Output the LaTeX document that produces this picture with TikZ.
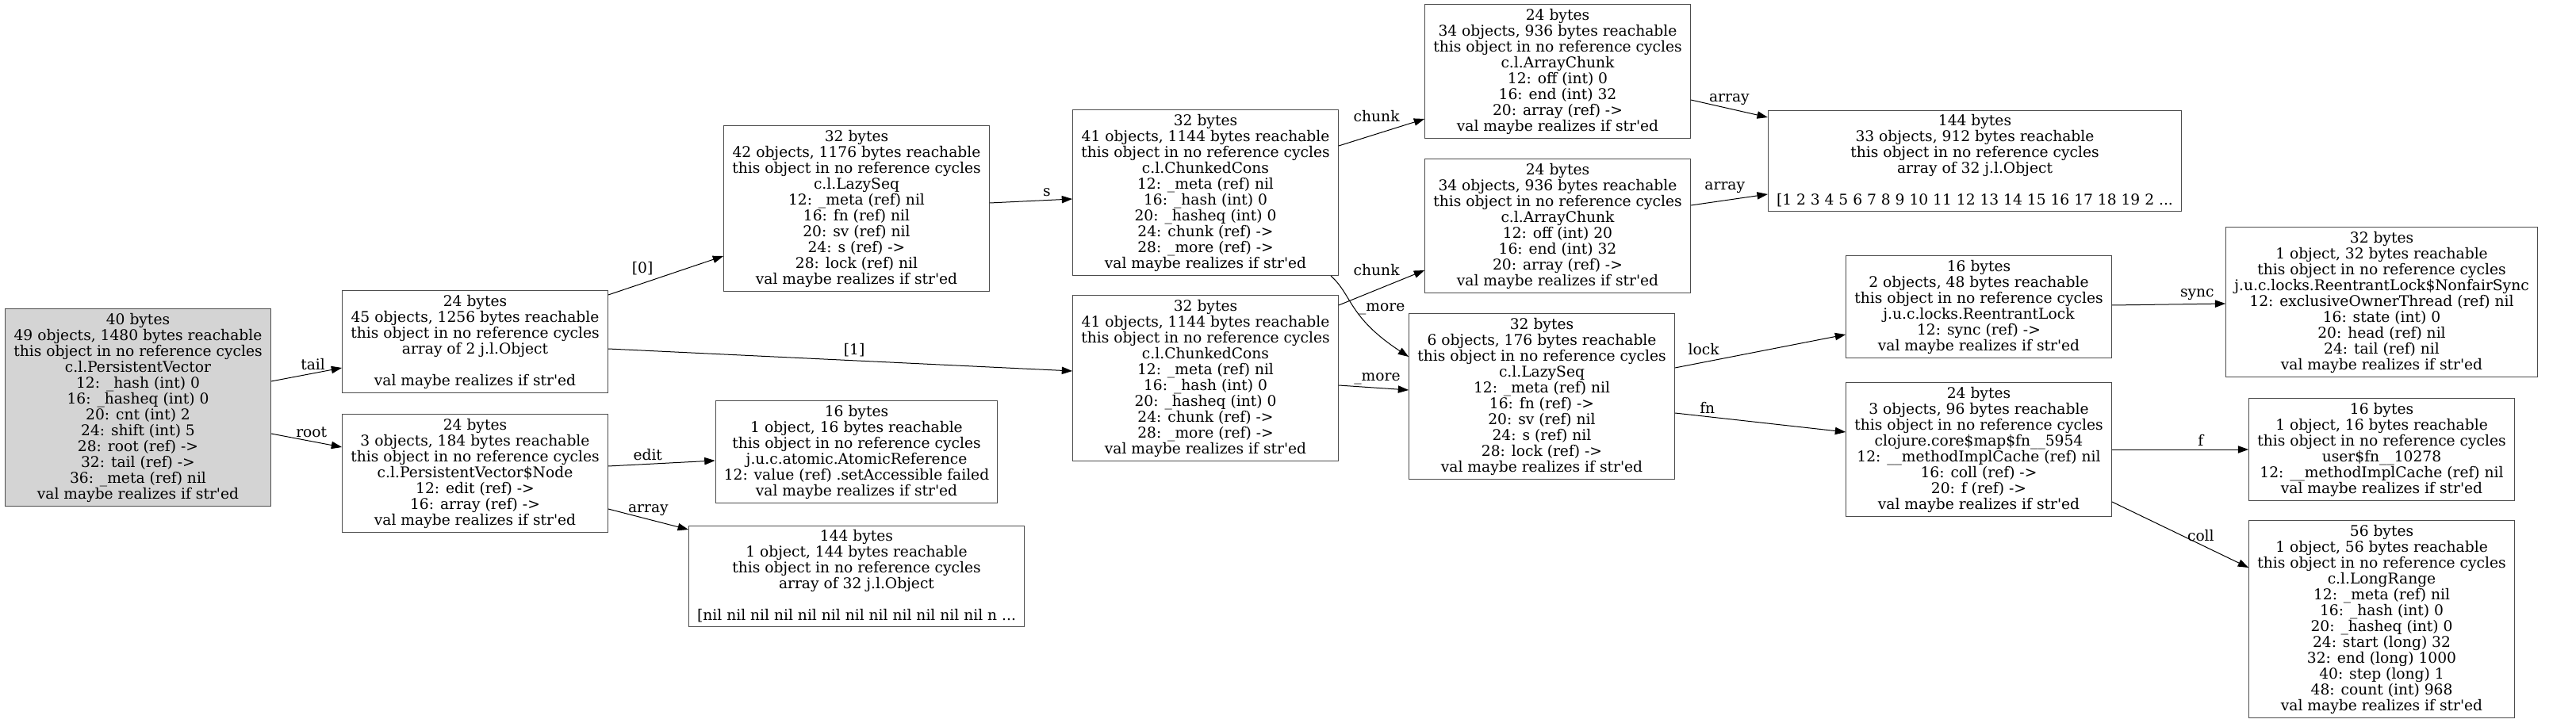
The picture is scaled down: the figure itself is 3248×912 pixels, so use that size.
\documentclass[tikz,border=0pt]{standalone}
\usepackage{fontspec}
\setmainfont{DejaVu Serif}[Ligatures=TeXOff]
\usetikzlibrary{arrows.meta}

\begin{document}
\begin{tikzpicture}[x=0.75pt, y=-0.75pt, font=\fontsize{14}{15}\selectfont,
	obj/.style={draw=black!70, line width=0.75pt, rectangle, align=center, inner xsep=8pt, inner ysep=4pt},
	rootobj/.style={obj, fill=black!17},
	ref/.style={-{Triangle[length=10pt,width=7pt]}, line width=0.75pt},
	lbl/.style={inner sep=3pt}]
	\useasboundingbox (0,0) rectangle (3248,912);

	%Objektene
	\node[rootobj] (1) at (174,514) {40 bytes\\49 objects, 1480 bytes reachable\\this object in no reference cycles\\c.l.PersistentVector\\12: \_hash (int) 0\\16: \_hasheq (int) 0\\20: cnt (int) 2\\24: shift (int) 5\\28: root (ref) ->\\32: tail (ref) ->\\36: \_meta (ref) nil\\val maybe realizes if str'ed};
	\node[obj] (2) at (599,431) {24 bytes\\45 objects, 1256 bytes reachable\\this object in no reference cycles\\array of 2 j.l.Object\\~\\val maybe realizes if str'ed};
	\node[obj] (3) at (599,597) {24 bytes\\3 objects, 184 bytes reachable\\this object in no reference cycles\\c.l.PersistentVector\$Node\\12: edit (ref) ->\\16: array (ref) ->\\val maybe realizes if str'ed};
	\node[obj] (4) at (1080,263) {32 bytes\\42 objects, 1176 bytes reachable\\this object in no reference cycles\\c.l.LazySeq\\12: \_meta (ref) nil\\16: fn (ref) nil\\20: sv (ref) nil\\24: s (ref) ->\\28: lock (ref) nil\\val maybe realizes if str'ed};
	\node[obj] (5) at (1080,570) {16 bytes\\1 object, 16 bytes reachable\\this object in no reference cycles\\j.u.c.atomic.AtomicReference\\12: value (ref) .setAccessible failed\\val maybe realizes if str'ed};
	\node[obj] (6) at (1080,727) {144 bytes\\1 object, 144 bytes reachable\\this object in no reference cycles\\array of 32 j.l.Object\\~\\{[}nil nil nil nil nil nil nil nil nil nil nil nil n ...};
	\node[obj] (7) at (1520,243) {32 bytes\\41 objects, 1144 bytes reachable\\this object in no reference cycles\\c.l.ChunkedCons\\12: \_meta (ref) nil\\16: \_hash (int) 0\\20: \_hasheq (int) 0\\24: chunk (ref) ->\\28: \_more (ref) ->\\val maybe realizes if str'ed};
	\node[obj] (8) at (1520,477) {32 bytes\\41 objects, 1144 bytes reachable\\this object in no reference cycles\\c.l.ChunkedCons\\12: \_meta (ref) nil\\16: \_hash (int) 0\\20: \_hasheq (int) 0\\24: chunk (ref) ->\\28: \_more (ref) ->\\val maybe realizes if str'ed};
	\node[obj] (9) at (1964,90) {24 bytes\\34 objects, 936 bytes reachable\\this object in no reference cycles\\c.l.ArrayChunk\\12: off (int) 0\\16: end (int) 32\\20: array (ref) ->\\val maybe realizes if str'ed};
	\node[obj] (10) at (1964,285) {24 bytes\\34 objects, 936 bytes reachable\\this object in no reference cycles\\c.l.ArrayChunk\\12: off (int) 20\\16: end (int) 32\\20: array (ref) ->\\val maybe realizes if str'ed};
	\node[obj] (11) at (1944,500) {32 bytes\\6 objects, 176 bytes reachable\\this object in no reference cycles\\c.l.LazySeq\\12: \_meta (ref) nil\\16: fn (ref) ->\\20: sv (ref) nil\\24: s (ref) nil\\28: lock (ref) ->\\val maybe realizes if str'ed};
	\node[obj] (12) at (2490,203) {144 bytes\\33 objects, 912 bytes reachable\\this object in no reference cycles\\array of 32 j.l.Object\\~\\{[}1 2 3 4 5 6 7 8 9 10 11 12 13 14 15 16 17 18 19 2 ...};
	\node[obj] (13) at (2495,387) {16 bytes\\2 objects, 48 bytes reachable\\this object in no reference cycles\\j.u.c.locks.ReentrantLock\\12: sync (ref) ->\\val maybe realizes if str'ed};
	\node[obj] (14) at (2495,567) {24 bytes\\3 objects, 96 bytes reachable\\this object in no reference cycles\\clojure.core\$map\$fn\_\_5954\\12: \_\_methodImplCache (ref) nil\\16: coll (ref) ->\\20: f (ref) ->\\val maybe realizes if str'ed};
	\node[obj] (15) at (3003,381) {32 bytes\\1 object, 32 bytes reachable\\this object in no reference cycles\\j.u.c.locks.ReentrantLock\$NonfairSync\\12: exclusiveOwnerThread (ref) nil\\16: state (int) 0\\20: head (ref) nil\\24: tail (ref) nil\\val maybe realizes if str'ed};
	\node[obj] (16) at (3003,567) {16 bytes\\1 object, 16 bytes reachable\\this object in no reference cycles\\user\$fn\_\_10278\\12: \_\_methodImplCache (ref) nil\\val maybe realizes if str'ed};
	\node[obj] (17) at (3003,781) {56 bytes\\1 object, 56 bytes reachable\\this object in no reference cycles\\c.l.LongRange\\12: \_meta (ref) nil\\16: \_hash (int) 0\\20: \_hasheq (int) 0\\24: start (long) 32\\32: end (long) 1000\\40: step (long) 1\\48: count (int) 968\\val maybe realizes if str'ed};

	%Referansene
	\draw[ref] (1.east |- 0,481) -- node[lbl, pos=0.59, above] {tail} (2.west |- 0,464);
	\draw[ref] (1.east |- 0,547) -- node[lbl, pos=0.57, above] {root} (3.west |- 0,564);
	\draw[ref] (2.east |- 0,372) -- node[lbl, pos=0.42, above left] {[0]} (4.west |- 0,323);
	\draw[ref] (2.east |- 0,440) -- node[lbl, pos=0.53, above] {[1]} (8.west |- 0,468);
	\draw[ref] (3.east |- 0,588) -- node[lbl, pos=0.37, above] {edit} (5.west |- 0,581);
	\draw[ref] (3.east |- 0,642) -- node[lbl, pos=0.5, above] {array} (6.west |- 0,668);
	\draw[ref] (4.east |- 0,256) -- node[lbl, pos=0.69, above] {s} (7.west |- 0,251);
	\draw[ref] (7.east |- 0,184) -- node[lbl, pos=0.75, above left] {chunk} (9.west |- 0,150);
	\draw[ref] (8.east |- 0,385) -- node[lbl, pos=0.75, above left] {chunk} (10.west |- 0,341);
	\draw[ref] (1678,0 |- 7.south) .. controls (1705,372) and (1700,400) .. node[lbl, pos=0.5, right] {\_more} (11.west |- 0,450);
	\draw[ref] (8.east |- 0,486) -- node[lbl, pos=0.55, above] {\_more} (11.west |- 0,492);
	\draw[ref] (9.east |- 0,126) -- node[lbl, pos=0.5, above] {array} (12.west |- 0,148);
	\draw[ref] (10.east |- 0,259) -- node[lbl, pos=0.75, above left] {array} (12.west |- 0,245);
	\draw[ref] (11.east |- 0,464) -- node[lbl, pos=0.28, above left] {lock} (13.west |- 0,422);
	\draw[ref] (11.east |- 0,521) -- node[lbl, pos=0.19, above] {fn} (14.west |- 0,545);
	\draw[ref] (13.east |- 0,385) -- node[lbl, pos=0.75, above] {sync} (15.west |- 0,383);
	\draw[ref] (14.east |- 0,567) -- node[lbl, pos=0.65, above] {f} (16.west |- 0,567);
	\draw[ref] (14.east |- 0,633) -- node[lbl, pos=0.65, above] {coll} (17.west |- 0,716);
\end{tikzpicture}
\end{document}
